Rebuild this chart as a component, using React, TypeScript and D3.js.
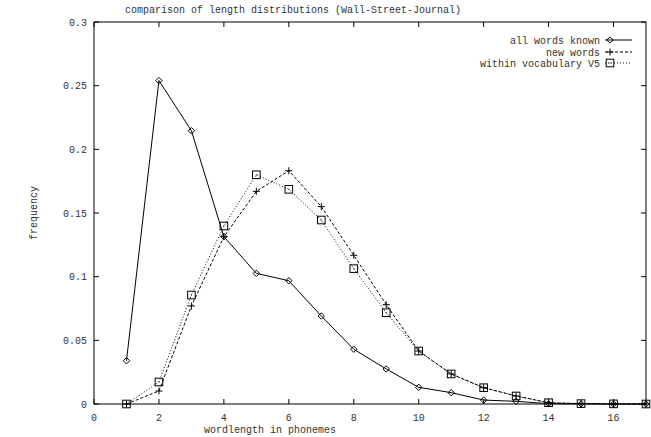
import React from "react";
import * as d3 from "d3";

const wordLengths = [1, 2, 3, 4, 5, 6, 7, 8, 9, 10, 11, 12, 13, 14, 15, 16, 17];
const allWordsKnown = [0.034, 0.254, 0.2146, 0.1314, 0.1026, 0.0968, 0.0691, 0.043, 0.0275, 0.0131, 0.0089, 0.0031, 0.0021, 0.0003, 0.0001, 0.0, 0.0];
const newWords = [0.0, 0.0102, 0.077, 0.1314, 0.167, 0.1832, 0.155, 0.1168, 0.078, 0.0416, 0.0236, 0.0128, 0.0063, 0.001, 0.0003, 0.0001, 0.0];
const withinVocab = [0.0, 0.0173, 0.0856, 0.1398, 0.18, 0.1686, 0.1445, 0.1063, 0.0717, 0.0416, 0.0236, 0.0128, 0.0063, 0.001, 0.0003, 0.0001, 0.0];
const xTicks = [0, 2, 4, 6, 8, 10, 12, 14, 16];
const yTicks = [0, 0.05, 0.1, 0.15, 0.2, 0.25, 0.3];
const yTickLabels = ["0", "0.05", "0.1", "0.15", "0.2", "0.25", "0.3"];
const seriesNames = ["all words known", "new words", "within vocabulary V5"];

const W = 651;
const H = 437;
const FONT = "'Liberation Mono', 'DejaVu Sans Mono', monospace";
const TXT = "#333";

type Marker = "diamond" | "plus" | "square";

function MarkerShape({ kind, x, y }: { kind: Marker; x: number; y: number }) {
  if (kind === "diamond") {
    const r = 3.2;
    return (
      <path
        d={`M${x},${y - r}L${x + r},${y}L${x},${y + r}L${x - r},${y}Z`}
        fill="none"
        stroke="#000"
        strokeWidth={1}
      />
    );
  }
  if (kind === "plus") {
    const r = 3.5;
    return (
      <path d={`M${x - r},${y}H${x + r}M${x},${y - r}V${y + r}`} stroke="#000" strokeWidth={1} />
    );
  }
  const r = 3.8;
  return (
    <g>
      <rect x={x - r} y={y - r} width={2 * r} height={2 * r} fill="none" stroke="#000" strokeWidth={1} />
      <rect x={x - 0.5} y={y - 0.5} width={1} height={1} fill="#000" />
    </g>
  );
}

export default function App() {
  const left = 94;
  const right = 646;
  const top = 22;
  const bottom = 404;
  const x = d3.scaleLinear().domain([0, 17]).range([left, right]);
  const y = d3.scaleLinear().domain([0, 0.3]).range([bottom, top]);

  const line = d3
    .line<number>()
    .x((_, i) => x(wordLengths[i]))
    .y((d) => y(d));

  const series: { name: string; values: number[]; dash?: string; marker: Marker }[] = [
    { name: seriesNames[0], values: allWordsKnown, marker: "diamond" },
    { name: seriesNames[1], values: newWords, dash: "3,2", marker: "plus" },
    { name: seriesNames[2], values: withinVocab, dash: "1,2", marker: "square" },
  ];

  const tick = 5;
  const legendRows = [40, 52, 63];

  return (
    <svg
      width={W}
      height={H}
      style={{ position: "absolute", left: 0, top: 0, background: "#fff" }}
      fontFamily={FONT}
      fontSize={10}
    >
      <rect x={0} y={0} width={W} height={H} fill="#fff" />
      <text x={293} y={13} textAnchor="middle" fill={TXT}>
        comparison of length distributions (Wall-Street-Journal)
      </text>

      {/* frame */}
      <rect x={left} y={top} width={right - left} height={bottom - top} fill="none" stroke="#000" strokeWidth={1} />

      {/* x ticks */}
      {xTicks.map((t) => (
        <g key={"x" + t}>
          <line x1={x(t)} x2={x(t)} y1={bottom} y2={bottom - tick} stroke="#000" />
          <line x1={x(t)} x2={x(t)} y1={top} y2={top + tick} stroke="#000" />
          <text x={x(t)} y={421} textAnchor="middle" fill={TXT}>
            {t}
          </text>
        </g>
      ))}

      {/* y ticks */}
      {yTicks.map((t, i) => (
        <g key={"y" + t}>
          <line x1={left} x2={left + tick} y1={y(t)} y2={y(t)} stroke="#000" />
          <line x1={right} x2={right - tick} y1={y(t)} y2={y(t)} stroke="#000" />
          <text x={87} y={y(t)} dy="0.35em" textAnchor="end" fill={TXT}>
            {yTickLabels[i]}
          </text>
        </g>
      ))}

      <text x={270} y={433} textAnchor="middle" fill={TXT}>
        wordlength in phonemes
      </text>
      <text transform={`translate(33,${(top + bottom) / 2}) rotate(-90)`} textAnchor="middle" dy="0.35em" fill={TXT}>
        frequency
      </text>

      {/* series */}
      {series.map((s) => (
        <g key={s.name}>
          <path d={line(s.values) || ""} fill="none" stroke="#000" strokeWidth={1} strokeDasharray={s.dash} />
          {s.values.map((v, i) => (
            <MarkerShape key={i} kind={s.marker} x={x(wordLengths[i])} y={y(v)} />
          ))}
        </g>
      ))}

      {/* legend */}
      {series.map((s, i) => (
        <g key={"lg" + s.name}>
          <text x={600} y={legendRows[i]} dy="0.35em" textAnchor="end" fill={TXT}>
            {s.name}
          </text>
          <line x1={605} x2={632} y1={legendRows[i]} y2={legendRows[i]} stroke="#000" strokeDasharray={s.dash} />
          <MarkerShape kind={s.marker} x={610} y={legendRows[i]} />
        </g>
      ))}
    </svg>
  );
}
